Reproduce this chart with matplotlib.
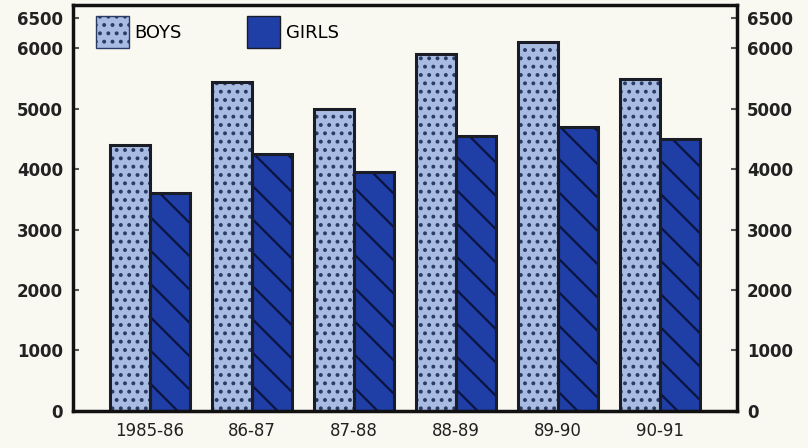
import numpy as np
import matplotlib.pyplot as plt
from matplotlib.patches import Patch

# dados
years = ['1985-86', '86-87', '87-88', '88-89', '89-90', '90-91']
boys = [4400, 5450, 5000, 5900, 6100, 5500]
girls = [3600, 4250, 3950, 4550, 4700, 4500]
yticks = [0, 1000, 2000, 3000, 4000, 5000, 6000, 6500]

boys_color = '#a8bce2'
girls_color = '#1f3ea6'
bg = '#faf9f1'

plt.rcParams['hatch.linewidth'] = 1.6

fig = plt.figure(figsize=(8.08, 4.48), dpi=100, facecolor=bg)
ax = fig.add_axes([0.0903, 0.083, 0.822, 0.906], facecolor=bg)

x = np.arange(len(years))
w = 0.39

# preenchimento + textura (a textura usa a cor da borda)
ax.bar(x - w / 2, boys, w, color=boys_color, edgecolor='#2c3a66', hatch='..', linewidth=0)
ax.bar(x + w / 2, girls, w, color=girls_color, edgecolor='#0b1440', hatch='\\', linewidth=0)
# contornos
ax.bar(x - w / 2, boys, w, fill=False, edgecolor='#1a1d26', linewidth=2.2)
ax.bar(x + w / 2, girls, w, fill=False, edgecolor='#1a1d26', linewidth=2.2)

ax.set_xlim(-0.755, 5.755)
ax.set_ylim(0, 6720)
ax.set_xticks(x)
ax.set_xticklabels(years, fontsize=12, color='#222222')
ax.set_yticks(yticks)
ax.set_yticklabels([str(v) for v in yticks], fontsize=12, fontweight='bold', color='#222222')
ax.tick_params(axis='x', length=0, pad=8)
ax.tick_params(axis='y', direction='in', length=4, width=1.5, left=True, right=True,
               labelleft=True, labelright=True, pad=7, color='#555555')
for s in ax.spines.values():
    s.set_linewidth(2.5)
    s.set_color('#111111')

handles = [Patch(facecolor=boys_color, edgecolor='#2c3a66', hatch='..', label='BOYS'),
           Patch(facecolor=girls_color, edgecolor='#1a1d26', label='GIRLS')]
ax.legend(handles=handles, loc='upper left', ncol=2, frameon=False, fontsize=13,
          handlelength=1.85, handleheight=2.4, handletextpad=0.3, columnspacing=3.6,
          borderaxespad=0.2, bbox_to_anchor=(0.018, 1.0))

plt.savefig('out.png', dpi=100, facecolor=bg)
